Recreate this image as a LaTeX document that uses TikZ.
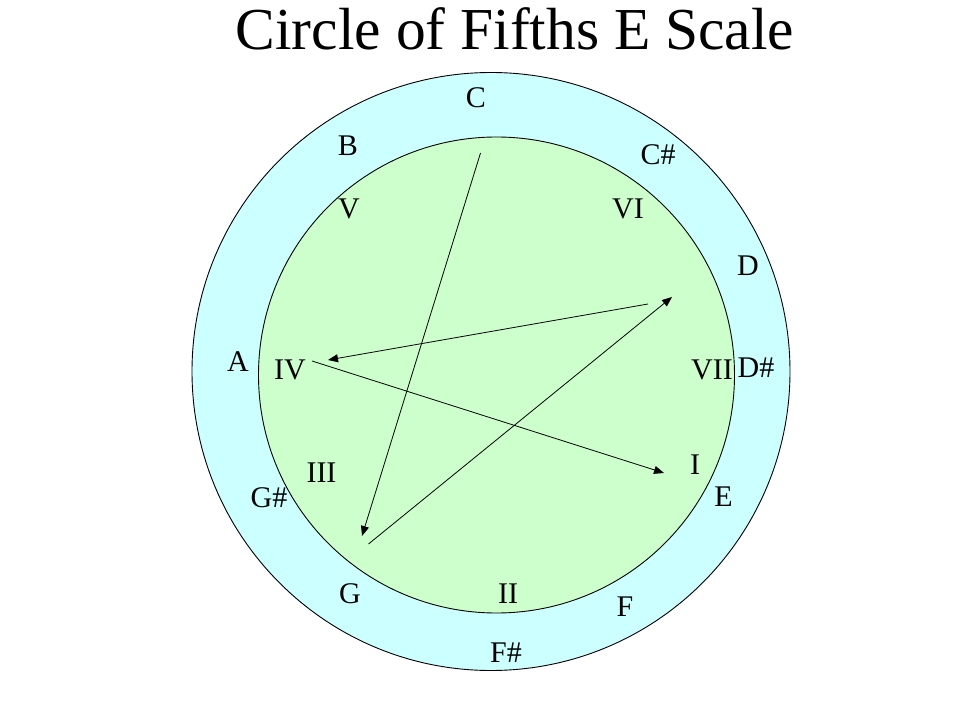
\documentclass[tikz,border=0pt]{standalone}
\usepackage{fontspec}
\setmainfont{Liberation Serif}
\usepackage{tikz}
\usetikzlibrary{arrows.meta,positioning,calc}
\definecolor{fifthcyan}{HTML}{CCFFFF}
\definecolor{fifthgreen}{HTML}{CCFFCC}

\begin{document}
\begin{tikzpicture}[
    x=1pt,y=-1pt,
    anneau/.style = {draw=black,line width=0.9pt},
    note/.style   = {inner sep=0pt,font=\fontsize{30}{33}\selectfont},
    degre/.style  = {inner sep=0pt,font=\fontsize{30}{33}\selectfont},
    titre/.style  = {inner sep=0pt,anchor=base,font=\fontsize{59.5}{65}\selectfont},
    fl/.style     = {-{Triangle[length=10pt,width=8pt]},line width=0.8pt},
  ]
  \useasboundingbox (0,0) rectangle (959,719);

  % ── Titre ───────────────────────────────────────────────────────────────
  \node[titre] (titre) at (515,50) {Circle of Fifths E Scale};

  % ── Anneaux ─────────────────────────────────────────────────────────────
  \draw[anneau,fill=fifthcyan]  (491,371.5) circle (299);
  \draw[anneau,fill=fifthgreen] (496.5,375) circle (238);

  % ── Notes (anneau extérieur) ────────────────────────────────────────────
  \node[note] (nC)  at (476,97.5)  {C};
  \node[note] (nCs) at (658,155)   {C\#};
  \node[note] (nD)  at (748,265.5) {D};
  \node[note] (nDs) at (756,368)   {D\#};
  \node[note] (nE)  at (723.5,497) {E};
  \node[note] (nF)  at (625,607)   {F};
  \node[note] (nFs) at (506,653)   {F\#};
  \node[note] (nG)  at (350,593.5) {G};
  \node[note] (nGs) at (269,498)   {G\#};
  \node[note] (nA)  at (238,362)   {A};
  \node[note] (nB)  at (348,146)   {B};

  % ── Degrés (disque intérieur) ───────────────────────────────────────────
  \node[degre] (dI)   at (695,465)   {I};
  \node[degre] (dII)  at (508,593.5) {II};
  \node[degre] (dIII) at (321.5,473) {III};
  \node[degre] (dIV)  at (290,370)   {IV};
  \node[degre] (dV)   at (349,209)   {V};
  \node[degre] (dVI)  at (628,209)   {VI};
  \node[degre] (dVII) at (712,369.5) {VII};

  % ── Étoile ──────────────────────────────────────────────────────────────
  \coordinate (haut)   at (480.5,153);
  \coordinate (versG)  at (362,536);
  \coordinate (basG)   at (368.5,544);
  \coordinate (versVI) at (672,297);
  \coordinate (hautVI) at (648,304);
  \coordinate (versIV) at (328,360);
  \coordinate (deIV)   at (312,361);
  \coordinate (versI)  at (664,473);

  \draw[fl] (haut)   -- (versG);
  \draw[fl] (basG)   -- (versVI);
  \draw[fl] (hautVI) -- (versIV);
  \draw[fl] (deIV)   -- (versI);

\end{tikzpicture}
\end{document}
